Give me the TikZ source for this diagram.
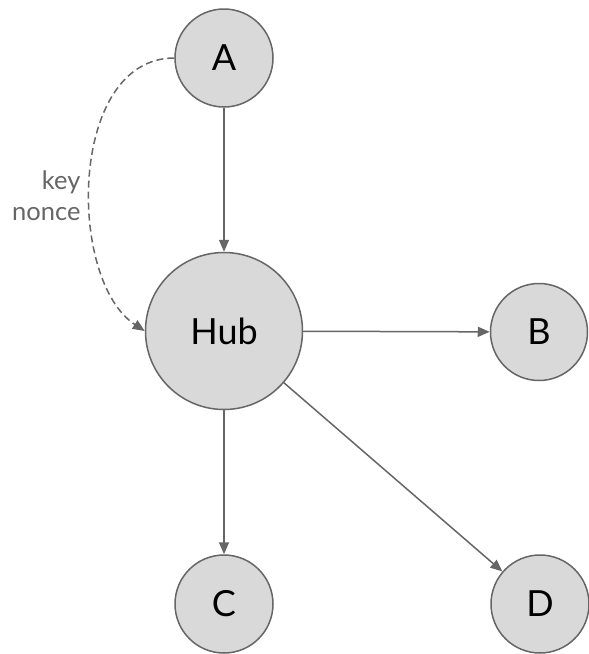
\documentclass[tikz,border=0pt]{standalone}
\usepackage{fontspec}
\setmainfont{Lato}
\usetikzlibrary{arrows.meta}
\definecolor{nodefill}{HTML}{D9D9D9}
\definecolor{edgegray}{HTML}{666666}
\tikzset{
  vertex/.style={circle, draw=edgegray, fill=nodefill, line width=1.5pt,
    inner sep=0pt, minimum size=#1, font=\fontsize{36}{42}\selectfont},
  link/.style={draw=edgegray, line width=1.5pt,
    -{Triangle[length=12pt,width=10pt]}},
  note/.style={text=edgegray, align=right, font=\fontsize{25.5}{31}\selectfont}
}
\begin{document}
\begin{tikzpicture}[x=1pt,y=-1pt]
  \useasboundingbox (0,0) rectangle (589,654);
  \node[vertex=98pt]  (A)   at (224,58)  {A};
  \node[vertex=157pt] (Hub) at (224,331) {Hub};
  \node[vertex=97pt]  (B)   at (539,332) {B};
  \node[vertex=98pt]  (C)   at (224,604) {C};
  \node[vertex=98pt]  (D)   at (540,604) {D};

  \draw[link] (A) -- (Hub);
  \draw[link] (Hub) -- (B);
  \draw[link] (Hub) -- (C);
  \draw[link] (Hub) -- (D);

  \draw[link, dashed, dash pattern=on 7pt off 4pt]
    (A.west) .. controls +(-106,0) and +(-78,-51) .. (Hub.west);
  \node[note, anchor=east] (lbl) at (84,196) {key\\nonce};
\end{tikzpicture}
\end{document}
